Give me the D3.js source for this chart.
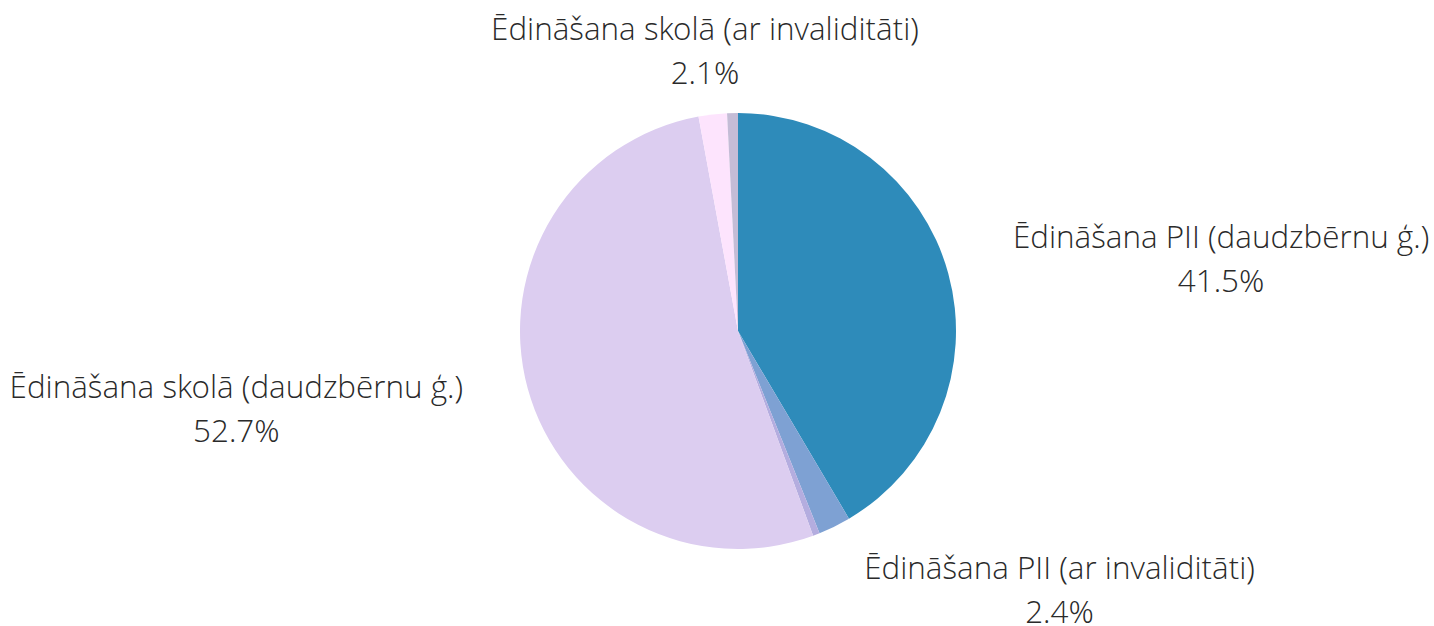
<!DOCTYPE html>
<html>
<head>
<meta charset="utf-8">
<script src="https://cdn.jsdelivr.net/npm/d3@7"></script>
<style>
  body { margin: 0; background: #fff; }
  text { font-family: "Open Sans Light", "Open Sans", sans-serif; font-weight: 300; fill: #2a2a2a; }
</style>
</head>
<body>
<svg id="chart" width="1434" height="626"></svg>
<script>
// slices, clockwise from 12 o'clock
const categories = [
  'Ēdināšana PII (daudzbērnu ģ.)',
  'Ēdināšana PII (ar invaliditāti)',
  'Ēdināšana PII (cits)',
  'Ēdināšana skolā (daudzbērnu ģ.)',
  'Ēdināšana skolā (ar invaliditāti)',
  'Ēdināšana skolā (cits)'
]
const values = [41.5, 2.4, 0.5, 52.7, 2.1, 0.8]
const showLabel = [true, true, false, true, true, false]
const colors = ['#2e8bba', '#7ea1d3', '#b4addf', '#dccdf0', '#fde4fd', '#c4bcd6']

const w = 1434, h = 626,
      cx = 738, cy = 331,
      r = 218, labelR = 285

let svg = d3.select('#chart')
let g = svg.append('g').attr('transform', `translate(${cx},${cy})`)

let pie = d3.pie().sort(null).value(d => d)
let arcs = pie(values)
let arc = d3.arc().innerRadius(0).outerRadius(r)

g.selectAll('path').data(arcs).enter().append('path')
  .attr('d', arc)
  .attr('fill', (d, i) => colors[i])

let fmt = d3.format('.1f')

arcs.forEach((d, i) => {
  if (!showLabel[i]) return
  let a = (d.startAngle + d.endAngle) / 2
  let x = labelR * Math.sin(a), y = -labelR * Math.cos(a)
  let t = g.append('text').attr('text-anchor', 'middle').style('font-size', '31.4px')
  t.append('tspan').attr('x', 0).attr('y', -8).text(categories[i])
  t.append('tspan').attr('x', 0).attr('y', 36).text(fmt(d.value) + '%')
  let bw = t.node().getBBox().width
  let s = Math.sin(a)
  let tx = x
  if (s > 0.3) tx = x + bw / 2
  else if (s < -0.3) tx = x - bw / 2
  t.attr('transform', `translate(${tx},${y})`)
})
</script>
</body>
</html>
